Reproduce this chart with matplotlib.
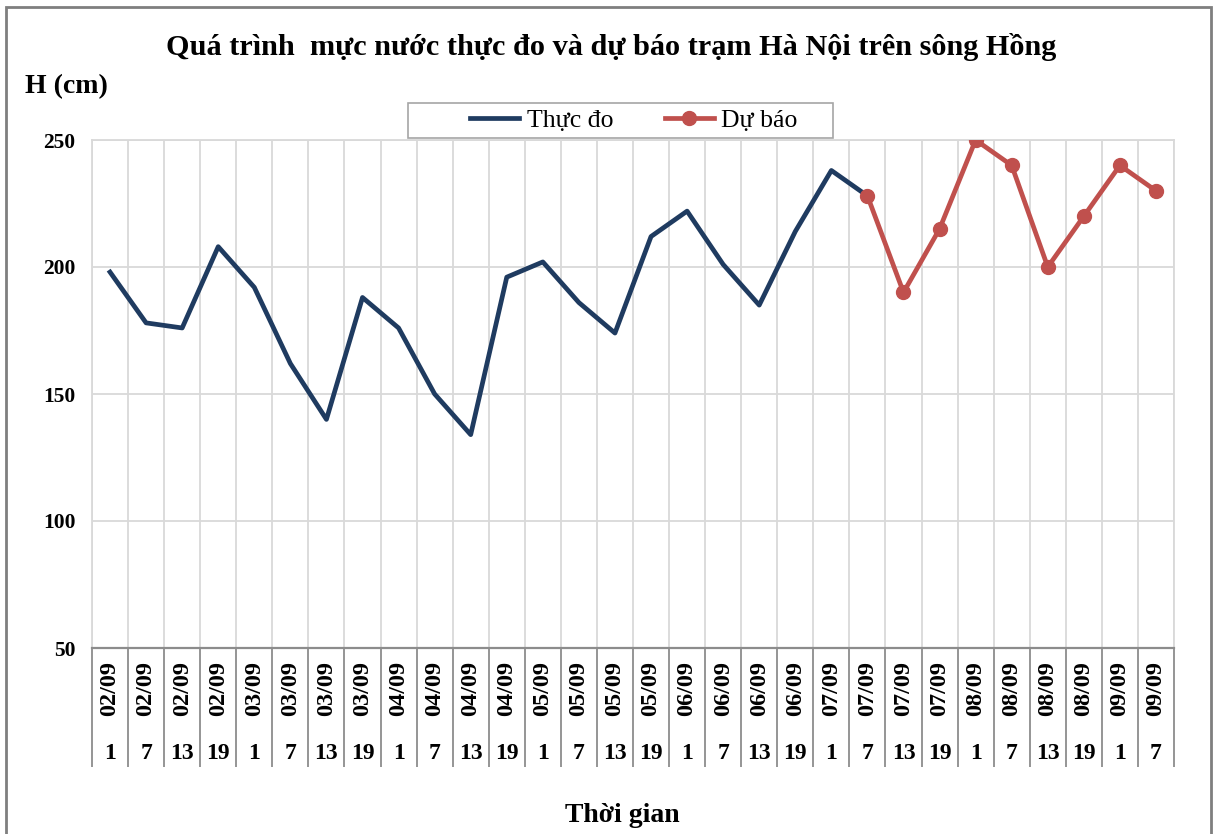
import matplotlib
matplotlib.use("Agg")
import matplotlib.pyplot as plt
from matplotlib.transforms import blended_transform_factory
from matplotlib.patches import Rectangle

# categories: day and hour
days = ["02/09"] * 4 + ["03/09"] * 4 + ["04/09"] * 4 + ["05/09"] * 4 + \
       ["06/09"] * 4 + ["07/09"] * 4 + ["08/09"] * 4 + ["09/09"] * 2
hours = ["1", "7", "13", "19"] * 7 + ["1", "7"]

# measured water level (cm), up to 07/09 7h
observed = [198, 178, 176, 208, 192, 162, 140, 188, 176, 150, 134, 196,
            202, 186, 174, 212, 222, 201, 185, 214, 238, 228]
# forecast, starting at 07/09 7h
forecast = [228, 190, 215, 250, 240, 200, 220, 240, 230]
forecast_start = 21

plt.rcParams['font.family'] = ['Liberation Serif', 'DejaVu Serif']

fig = plt.figure(figsize=(12.14, 8.34), dpi=100)
ax = fig.add_axes([92 / 1214, 1 - 648 / 834, (1174 - 92) / 1214, (648 - 140) / 834])

x_obs = list(range(len(observed)))
x_fc = list(range(forecast_start, forecast_start + len(forecast)))

ax.plot(x_obs, observed, color='#1F3B60', lw=3.4, label='Thực đo', zorder=3)
ax.plot(x_fc, forecast, color='#C0504D', lw=3.4, marker='o', ms=10,
        label='Dự báo', zorder=4)

n = len(days)
ax.set_xlim(-0.5, n - 0.5)
ax.set_ylim(50, 250)
ax.set_yticks([50, 100, 150, 200, 250])
ax.tick_params(axis='y', length=0, pad=12, labelsize=15.5)
for lab in ax.get_yticklabels():
    lab.set_fontweight('bold')

# category boundaries: gridlines + separators reaching into the label area
bounds = [i - 0.5 for i in range(n + 1)]
ax.set_xticks(bounds)
ax.set_xticklabels([])
ax.tick_params(axis='x', length=86, width=1.3, color='#8C8C8C', direction='out')
ax.grid(True, axis='both', color='#D9D9D9', lw=1.3)
ax.set_axisbelow(True)

for side in ['top', 'right', 'left']:
    ax.spines[side].set_color('#D9D9D9')
    ax.spines[side].set_linewidth(1.3)
ax.spines['bottom'].set_color('#8C8C8C')
ax.spines['bottom'].set_linewidth(1.6)

trans = blended_transform_factory(ax.transData, ax.transAxes)
for i in range(n):
    ax.text(i, -0.026, days[i], rotation=90, ha='center', va='top',
            fontsize=17.5, fontweight='bold', transform=trans)
    ax.text(i, -0.207, hours[i], ha='center', va='center',
            fontsize=17, fontweight='bold', transform=trans)

fig.text(0.503, 1 - 47 / 834, 'Quá trình  mực nước thực đo và dự báo trạm Hà Nội trên sông Hồng',
         ha='center', va='center', fontsize=21.8, fontweight='bold')
fig.text(25 / 1214, 1 - 87 / 834, 'H (cm)', ha='left', va='center',
         fontsize=20, fontweight='bold')
fig.text(622 / 1214, 1 - 815 / 834, 'Thời gian', ha='center', va='center',
         fontsize=20, fontweight='bold')

# legend box drawn separately so the padding can match
fig.patches.append(Rectangle((408 / 1214, 1 - 138 / 834), 425 / 1214, 35 / 834,
                             transform=fig.transFigure, facecolor='white',
                             edgecolor='#A6A6A6', lw=1.2, zorder=5))
handles, labels = ax.get_legend_handles_labels()
leg = fig.legend(handles, labels, loc='center',
                 bbox_to_anchor=(634 / 1214, 1 - 121 / 834),
                 ncol=2, frameon=False,
                 handlelength=1.9, columnspacing=2.0, handletextpad=0.3,
                 borderpad=0, borderaxespad=0, prop={'size': 18.5})
leg.set_zorder(6)

fig.patches.append(Rectangle((6 / 1214, -0.01), (1211 - 6) / 1214, 1 - 7 / 834 + 0.01,
                             transform=fig.transFigure, fill=False,
                             edgecolor='#7F7F7F', lw=2))

fig.savefig('out.png', dpi=100)
